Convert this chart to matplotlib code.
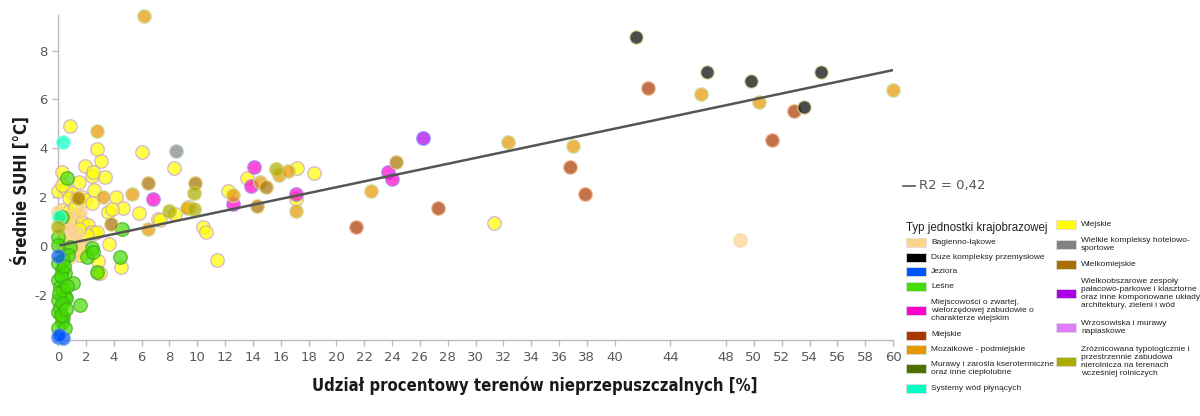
import matplotlib
matplotlib.use("Agg")
import matplotlib.pyplot as plt
from matplotlib import font_manager as fm
from matplotlib.patches import Rectangle
from matplotlib.lines import Line2D

plt.rcParams["axes.unicode_minus"] = False

# ---------------- data ----------------
categories = [
    "Bagienno-łąkowe",
    "Duze kompleksy przemysłowe",
    "Jeziora",
    "Leśne",
    "Miejscowości o zwartej,\nwielorzędowej zabudowie o\ncharakterze wiejskim",
    "Miejskie",
    "Mozaikowe - podmiejskie",
    "Murawy i zarośla kserotermiczne\noraz inne ciepłolubne",
    "Systemy wód płynących",
    "Wiejskie",
    "Wielkie kompleksy hotelowo-\nsportowe",
    "Wielkomiejskie",
    "Wielkoobszarowe zespoły\npałacowo-parkowe i klasztorne\noraz inne komponowane układy\narchitektury, zieleni i wód",
    "Wrzosowiska i murawy\nnapiaskowe",
    "Zróżnicowana typologicznie i\nprzestrzennie zabudowa\nnierolnicza na terenach\nwcześniej rolniczych",
]
colors = ["#FFD28A", "#000000", "#0055FF", "#44DD00", "#FF00CC", "#A83800",
          "#E69800", "#4C7300", "#00FFC5", "#FFFF00", "#828282", "#A87000",
          "#A900E6", "#E07DFF", "#ABAB00"]
edges = ["#F5D9A8", "#E8E6A0", "#6A9AE0", "#3DA81A", "#9A8AE8", "#F0B080",
         "#C8E0A0", "#8AB040", "#80FFE0", "#C8A0D8", "#B0D8B0", "#E0D080",
         "#8080FF", "#F0B0FF", "#D0D060"]

bagienno_x = [0.02, 0.02, 0.5, 0.86, 1.34, 0.98, 1.46, 1.22, 0.5, 0.86, 1.22, 0.74, 1.6, 49.0, 0.3]
bagienno_y = [1.4, 0.82, 0.88, 0.67, 0.54, 0.33, 0.13, -0.07, 0.06, -0.42, -0.28, 1.2, 1.4, 0.27, -0.2]

duze_x = [41.5, 46.6, 49.8, 53.6, 54.8]
duze_y = [8.54, 7.11, 6.77, 5.69, 7.11]

jeziora_x = [0.0, 0.02, 0.38, 0.05]
jeziora_y = [-0.39, -3.68, -3.75, -3.6]

lesne_x = [0.62, 4.63, 4.46, 1.58, 1.1, 0.02, 0.86, 2.06, 0.74, 2.42, 2.54, 0.02, 0.38,
           0.26, 0.5, 0.02, 0.14, 0.38, 0.5, 0.02, 0.14, 0.02, 0.38, 0.26, 0.02, 0.5,
           0.58, 0.1, 0.3, 0.2, 0.45, 0.02, 0.65, 0.26, 2.8, 0.2, 0.6]
lesne_y = [2.78, 0.72, -0.42, -2.39, -1.48, 0.4, -0.03, -0.42, -0.35, -0.07, -0.21, -0.69,
           -0.55, -0.96, -1.09, -1.37, -1.64, -1.78, -2.05, -2.18, -2.52, -2.66, -2.87,
           -3.07, -3.34, -3.34, -2.09, -1.9, -2.3, -1.2, -0.8, 0.05, -1.6, 1.22, -1.03,
           -2.8, -2.55]

miejscowosci_x = [6.86, 12.57, 14.1, 13.9, 17.1, 23.7, 24.0]
miejscowosci_y = [1.94, 1.73, 3.26, 2.47, 2.13, 3.05, 2.76]

miejskie_x = [21.4, 27.3, 36.8, 37.9, 42.4, 51.3, 52.9]
miejskie_y = [0.81, 1.56, 3.24, 2.14, 6.48, 4.33, 5.53]

mozaikowe_x = [6.2, 2.83, 5.35, 3.26, 12.6, 14.5, 15.85, 16.5, 17.1, 9.26, 6.5, 22.5,
               32.3, 37.0, 46.2, 50.4, 60.0]
mozaikowe_y = [9.4, 4.73, 2.14, 2.03, 2.1, 2.65, 2.92, 3.08, 1.46, 1.58, 0.7, 2.26,
               4.26, 4.1, 6.22, 5.88, 6.39]

murawy_x = []
murawy_y = []

systemy_x = [0.38, 0.07]
systemy_y = [4.25, 1.19]

wiejskie_x = [0.86, 2.83, 6.07, 3.09, 1.92, 8.37, 3.4, 2.42, 2.54, 0.26, 1.53, 0.02, 0.55,
              2.59, 12.2, 0.98, 0.81, 1.34, 1.7, 1.94, 2.42, 4.17, 4.65, 3.62, 3.86, 0.26,
              0.7, 0.94, 1.46, 1.7, 0.98, 5.85, 8.42, 9.37, 7.22, 7.34, 10.45, 10.6, 3.69,
              2.9, 4.5, 2.9, 3.02, 11.46, 13.6, 17.2, 17.1, 18.37, 31.3, 1.7, 2.18, 2.66,
              2.42, 1.58, 1.94, 2.78, 2.06, 1.58, 0.5, 1.1, 1.5, 0.3, 1.2]
wiejskie_y = [4.9, 3.97, 3.86, 3.49, 3.29, 3.19, 2.85, 2.89, 3.03, 3.03, 2.63, 2.26, 2.35,
              2.3, 2.27, 2.17, 1.97, 1.97, 2.03, 1.9, 1.79, 2.0, 1.58, 1.42, 1.52, 1.49,
              1.42, 1.24, 1.29, 1.01, 0.95, 1.35, 1.31, 1.6, 1.11, 1.08, 0.78, 0.58, 0.1,
              -0.6, -0.82, -1.07, -1.09, -0.55, 2.78, 3.19, 1.93, 3.01, 0.95, 0.95, 0.88,
              0.54, 0.6, -0.01, -0.21, 0.6, 0.47, -0.35, 0.3, 0.15, 0.7, 2.5, 1.6]

wielkie_x = [8.49]
wielkie_y = [3.91]

wielkomiejskie_x = [6.45, 9.86, 3.81, 1.46, 14.3, 14.96, 24.3]
wielkomiejskie_y = [2.6, 2.6, 0.92, 1.99, 1.65, 2.42, 3.45]

wielkoobszarowe_x = [26.2]
wielkoobszarowe_y = [4.44]

wrzosowiska_x = []
wrzosowiska_y = []

zroznicowana_x = [9.74, 7.99, 9.74, 15.7, 0.02]
zroznicowana_y = [2.2, 1.45, 1.54, 3.15, 0.81]

trend_x = [0.2, 60.0]
trend_y = [0.05, 7.2]
r2_label = "R2 = 0,42"

x_ticks = list(range(0, 41, 2)) + [44] + list(range(48, 61, 2))
y_ticks = [-2, 0, 2, 4, 6, 8]

series = [
    (bagienno_x, bagienno_y), (duze_x, duze_y), (jeziora_x, jeziora_y),
    (lesne_x, lesne_y), (miejscowosci_x, miejscowosci_y), (miejskie_x, miejskie_y),
    (mozaikowe_x, mozaikowe_y), (murawy_x, murawy_y), (systemy_x, systemy_y),
    (wiejskie_x, wiejskie_y), (wielkie_x, wielkie_y), (wielkomiejskie_x, wielkomiejskie_y),
    (wielkoobszarowe_x, wielkoobszarowe_y), (wrzosowiska_x, wrzosowiska_y),
    (zroznicowana_x, zroznicowana_y),
]

# ---------------- fonts ----------------
installed = {(f.name, f.stretch) for f in fm.fontManager.ttflist}
names = {n for n, _ in installed}
if "Liberation Sans Narrow" in names:
    label_kw = dict(family=["Liberation Sans Narrow", "DejaVu Sans"], fontweight="bold",
                    fontsize=14)
elif any(n == "DejaVu Sans" and s in ("condensed", "semi-condensed", 87.5, 75)
         for n, s in installed) or "DejaVu Sans Condensed" in names:
    fam = "DejaVu Sans Condensed" if "DejaVu Sans Condensed" in names else "DejaVu Sans"
    label_kw = dict(family=[fam, "DejaVu Sans"], fontweight="bold", fontsize=12,
                    fontstretch="condensed")
else:
    label_kw = dict(family=["DejaVu Sans"], fontweight="bold", fontsize=11)
legend_family = ["Liberation Sans", "DejaVu Sans"] if "Liberation Sans" in names else ["DejaVu Sans"]

# ---------------- figure ----------------
W, H = 1200, 416
fig = plt.figure(figsize=(W / 100, H / 100), dpi=100)
fig.patch.set_facecolor("white")

def fx(px):
    return px / W

def fy(py):
    return 1 - py / H

ax = fig.add_axes([fx(58), fy(340), (893 - 58) / W, (340 - 15) / H])
ax.set_xlim(0, 60)
ax.set_ylim(-3.82, 9.45)

draw_order = [9, 0, 3, 2, 8, 4, 5, 6, 7, 10, 11, 12, 13, 14, 1]
for i in draw_order:
    xs, ys = series[i]
    if xs:
        ax.scatter(xs, ys, s=95, c=colors[i], edgecolors=edges[i], linewidths=1.0,
                   alpha=0.7, clip_on=False, zorder=3)

ax.plot(trend_x, trend_y, color="#555555", lw=1.8, zorder=4)

for s in ["top", "right"]:
    ax.spines[s].set_visible(False)
for s in ["left", "bottom"]:
    ax.spines[s].set_color("#BBBBBB")
    ax.spines[s].set_linewidth(1.0)

ax.set_xticks(x_ticks)
ax.set_yticks(y_ticks)
ax.tick_params(axis="both", colors="#BBBBBB", labelcolor="#595959", labelsize=9.5,
               length=4, width=1.0)
ax.tick_params(axis="x", pad=4)

fig.text(fx(21), fy(191), "Średnie SUHI [°C]", rotation=90, ha="center", va="center",
         color="#1a1a1a", **label_kw)
fig.text(fx(535), fy(386), "Udział procentowy terenów nieprzepuszczalnych [%]",
         ha="center", va="center", color="#1a1a1a", **label_kw)

# R2 label
fig.add_artist(Line2D([fx(903), fx(915)], [fy(186), fy(186)], color="#555555", lw=1.2))
fig.text(fx(919), fy(186), r2_label, ha="left", va="center", fontsize=9.5,
         color="#555555")

# manual legend
fig.text(fx(906), fy(228), "Typ jednostki krajobrazowej", ha="left", va="center",
         fontsize=8.3, family=legend_family, color="#222222")
col1_rows = [242.7, 257.7, 271.7, 286.7, 310.7, 335.0, 349.3, 368.3, 388.3]
col2_rows = [224.3, 244.3, 264.0, 293.3, 327.7, 361.7]
positions = [(906, r) for r in col1_rows] + [(1056, r) for r in col2_rows]
for i, (px, py) in enumerate(positions):
    fig.add_artist(Rectangle((fx(px), fy(py + 4.5)), 20 / W, 9 / H,
                             facecolor=colors[i], edgecolor="#DDDDDD", lw=0.6))
    fig.text(fx(px + 25), fy(py), categories[i], ha="left", va="center",
             fontsize=6.0, family=legend_family, color="#222222", linespacing=1.2)

fig.savefig("out.png", dpi=100, facecolor="white")
